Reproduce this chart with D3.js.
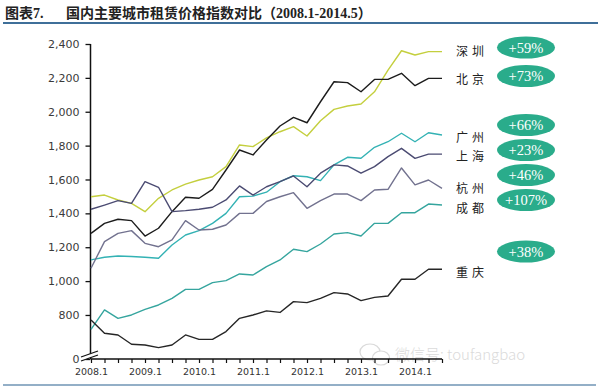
<!DOCTYPE html>
<html><head><meta charset="utf-8">
<script src="https://cdn.jsdelivr.net/npm/d3@7/dist/d3.min.js"></script>
<style>html,body{margin:0;padding:0;background:#fff;}svg{display:block;}</style>
</head><body>
<svg id="chart" width="600" height="391"></svg>
<script>
// ---- data ----
const periods = [];
for (let yr = 2008; yr <= 2014; yr++) for (const m of [1,4,7,10]) periods.push(yr + "." + m);
periods.length = 26; periods.push("2014.5");
const xTickLabels = ["2008.1","2009.1","2010.1","2011.1","2012.1","2013.1","2014.1"];
const yTicks = [0, 800, 1000, 1200, 1400, 1600, 1800, 2000, 2200, 2400];
const cities = ["深圳","北京","广州","上海","杭州","成都","重庆"];
const changes = ["+59%","+73%","+66%","+23%","+46%","+107%","+38%"];
const shenzhen  = [1498,1508,1479,1459,1410,1489,1538,1573,1597,1616,1676,1804,1794,1846,1882,1912,1857,1947,2014,2034,2046,2118,2246,2360,2335,2355,2355];
const beijing   = [1282,1341,1365,1357,1266,1312,1410,1495,1489,1542,1656,1774,1745,1833,1916,1967,1935,2059,2177,2172,2118,2191,2191,2227,2154,2197,2197];
const guangzhou = [1125,1141,1148,1145,1141,1135,1213,1272,1298,1341,1400,1498,1502,1525,1587,1622,1616,1593,1686,1731,1725,1790,1823,1873,1823,1876,1863];
const shanghai  = [1424,1449,1475,1459,1587,1554,1410,1416,1424,1436,1479,1562,1508,1557,1587,1621,1557,1637,1686,1680,1637,1676,1735,1784,1725,1750,1750];
const hangzhou  = [1076,1233,1282,1298,1223,1203,1243,1357,1302,1306,1331,1400,1400,1470,1498,1522,1430,1475,1514,1514,1475,1538,1542,1668,1568,1597,1548];
const chengdu   = [715,830,780,800,833,859,898,951,951,991,1003,1042,1036,1085,1125,1188,1174,1219,1278,1286,1266,1341,1341,1404,1404,1455,1449];
const chongqing = [770,692,682,627,623,607,623,682,656,656,702,780,800,824,815,879,873,898,932,924,885,904,912,1011,1011,1070,1070];

const seriesValues = [shenzhen, beijing, guangzhou, shanghai, hangzhou, chengdu, chongqing];
const colors = ["#c4cf3e","#1c1c1c","#33b2b4","#4b4b72","#72728f","#35a59e","#262626"];

// ---- layout ----
const svg = d3.select("#chart");
const x = d3.scalePoint().domain(periods).range([91, 442]);
// broken value axis: the "0" tick sits at the break below 800
const y = d3.scaleLinear().domain([0, 540, 2400]).range([359, 359, 44]);

// title
svg.append("text").attr("x", 5).attr("y", 18)
  .style("font-family", "'Liberation Serif','Noto Sans CJK SC',serif")
  .style("font-weight", "bold").style("font-size", "14px").attr("fill", "#222")
  .text("图表7.");
svg.append("text").attr("x", 66).attr("y", 18)
  .style("font-family", "'Liberation Serif','Noto Sans CJK SC',serif")
  .style("font-weight", "bold").style("font-size", "14px").attr("fill", "#222")
  .text("国内主要城市租赁价格指数对比（2008.1-2014.5）");
svg.append("line").attr("x1", 3).attr("x2", 598).attr("y1", 23).attr("y2", 23)
  .attr("stroke", "#3f6f99").attr("stroke-width", 2);
svg.append("line").attr("x1", 3).attr("x2", 596).attr("y1", 385).attr("y2", 385)
  .attr("stroke", "#6f94b4").attr("stroke-width", 1.5);

// watermark (drawn under the axes)
const wm = svg.append("g").attr("opacity", 0.55);
wm.append("ellipse").attr("cx", 370).attr("cy", 352).attr("rx", 10).attr("ry", 8).attr("fill", "none").attr("stroke", "#bbb").attr("stroke-width", 1.2);
wm.append("ellipse").attr("cx", 381).attr("cy", 358).attr("rx", 8.5).attr("ry", 7).attr("fill", "#fff").attr("stroke", "#bbb").attr("stroke-width", 1.2);
wm.append("text").attr("x", 395).attr("y", 360)
  .style("font-family", "'Noto Sans CJK SC',sans-serif").style("font-size", "15px").style("font-weight", "300")
  .attr("fill", "#bdbdbd").text("微信号: toufangbao");

// y axis
const yAxis = d3.axisLeft(y).tickValues(yTicks).tickSize(5).tickPadding(6)
  .tickFormat(d => d === 0 ? "0" : d3.format(",")(d));
const gy = svg.append("g").attr("transform", "translate(90.5,0)").call(yAxis);
gy.select(".domain").attr("d", "M0,44V359").attr("stroke", "#111").attr("stroke-width", 1.5);
gy.selectAll(".tick line").attr("stroke", "#111").attr("stroke-width", 1.3);
gy.selectAll(".tick text").attr("fill", "#3a3a3a")
  .style("font-family", "'DejaVu Sans',sans-serif").style("font-size", "11px");

// x axis
const xAxis = d3.axisBottom(x).tickSize(4).tickPadding(5)
  .tickFormat(d => xTickLabels.includes(d) ? d : "");
const gx = svg.append("g").attr("transform", "translate(0,359)").call(xAxis);
gx.select(".domain").attr("d", "M91,0H442").attr("stroke", "#111").attr("stroke-width", 1.5);
gx.selectAll(".tick line").attr("stroke", "#111").attr("stroke-width", 1.2);
gx.selectAll(".tick text").attr("fill", "#333")
  .style("font-family", "'DejaVu Sans',sans-serif").style("font-size", "9.5px");

// axis break mark
const brk = svg.append("g");
brk.append("polygon").attr("points", "81,357 98,351 98,355 81,361").attr("fill", "#fff");
brk.append("line").attr("x1", 81).attr("y1", 357).attr("x2", 98).attr("y2", 351).attr("stroke", "#111").attr("stroke-width", 1.2);
brk.append("line").attr("x1", 81).attr("y1", 361).attr("x2", 98).attr("y2", 355).attr("stroke", "#111").attr("stroke-width", 1.2);

// lines
const line = d3.line().x((d, i) => x(periods[i])).y(d => y(d));
seriesValues.forEach((vals, k) => {
  svg.append("path").datum(vals).attr("d", line).attr("fill", "none")
    .attr("stroke", colors[k]).attr("stroke-width", 1.4).attr("stroke-linejoin", "round");
});

// city labels
const labelY = [51, 79, 137, 156, 188, 208, 272];
cities.forEach((c, k) => {
  svg.append("text").attr("x", 456).attr("y", labelY[k] + 4.5)
    .style("font-family", "'Noto Sans CJK SC',sans-serif").style("font-size", "12px")
    .style("letter-spacing", "4px").attr("fill", "#222").text(c);
});

// change badges
const badgeY = [47.5, 76, 125, 150, 175, 200, 251.5];
changes.forEach((c, k) => {
  svg.append("ellipse").attr("cx", 526).attr("cy", badgeY[k]).attr("rx", 29).attr("ry", 11)
    .attr("fill", "#2aac8b");
  svg.append("text").attr("x", 526).attr("y", badgeY[k] + 5).attr("text-anchor", "middle")
    .style("font-family", "'Liberation Serif',serif").style("font-size", "14.5px")
    .attr("fill", "#fff").text(c);
});
</script>
</body></html>
